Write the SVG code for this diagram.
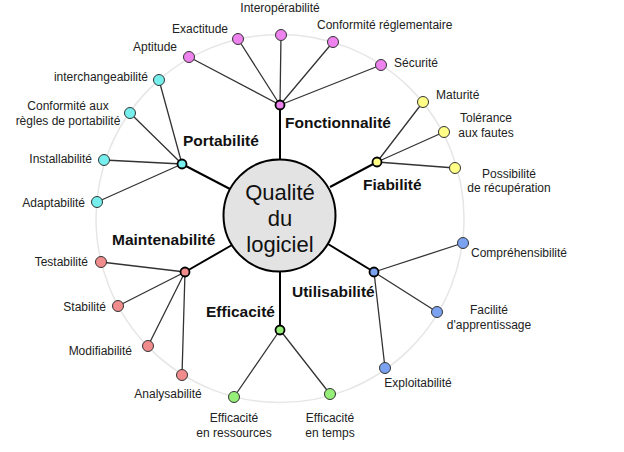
<svg xmlns="http://www.w3.org/2000/svg" width="624" height="452" viewBox="0 0 624 452">
<style>
.lbl{font-family:"Liberation Sans",Arial,sans-serif;font-size:12px;fill:#222}
.cat{font-family:"Liberation Sans",Arial,sans-serif;font-size:15.5px;font-weight:bold;fill:#111}
.main{font-family:"Liberation Sans",Arial,sans-serif;font-size:22px;fill:#111;text-anchor:middle}
.leaf{stroke:#333;stroke-width:1}
.hub{stroke:#000;stroke-width:1.8}
.thin{stroke:#333;stroke-width:1.3;fill:none}
.thick{stroke:#000;stroke-width:2;fill:none}
.fon{fill:#ee82ee}.por{fill:#77eeee}.fia{fill:#ffff88}.mai{fill:#f08c8c}.eff{fill:#95ee77}.uti{fill:#7ba2f0}
</style>
<rect width="624" height="452" fill="#fff"/>
<circle cx="280" cy="218.5" r="184" fill="none" stroke="#e6e6e6" stroke-width="1.5"/>
<g id="connectors">
<path class="thick" d="M280 105V159.5M182 164L230 189M377 162L330 187M185 272L232 245M374 272L328 244M280 330V271.5"/>
<path class="thin" d="M280 105L189 57M280 105L238 39M280 105L281 35M280 105L333 42M280 105L381 65"/>
<path class="thin" d="M182 164L159 80M182 164L130 113M182 164L104 160M182 164L97 202"/>
<path class="thin" d="M377 162L423 102M377 162L444 132M377 162L455 168"/>
<path class="thin" d="M185 272L101 262M185 272L118 306M185 272L148 346M185 272L182 375"/>
<path class="thin" d="M280 330L234 397M280 330L330 394"/>
<path class="thin" d="M374 272L463 243M374 272L437 312M374 272L385 368"/>
</g>
<g id="center">
<circle cx="279.5" cy="215.5" r="56" fill="#e3e3e3" stroke="#000" stroke-width="2"/>
<text class="main" x="280" y="200">Qualité</text>
<text class="main" x="280" y="226">du</text>
<text class="main" x="280" y="252">logiciel</text>
</g>
<g id="fonctionnalite">
<circle class="hub fon" cx="280" cy="105" r="4.5"/>
<text class="cat" x="285" y="128">Fonctionnalité</text>
<circle class="leaf fon" cx="189" cy="57" r="5.5"/><text class="lbl" x="177" y="51" text-anchor="end">Aptitude</text>
<circle class="leaf fon" cx="238" cy="39" r="5.5"/><text class="lbl" x="200" y="33" text-anchor="middle">Exactitude</text>
<circle class="leaf fon" cx="281" cy="35" r="5.5"/><text class="lbl" x="280" y="12" text-anchor="middle">Interopérabilité</text>
<circle class="leaf fon" cx="333" cy="42" r="5.5"/><text class="lbl" x="317" y="29">Conformité réglementaire</text>
<circle class="leaf fon" cx="381" cy="65" r="5.5"/><text class="lbl" x="394" y="67">Sécurité</text>
</g>
<g id="portabilite">
<circle class="hub por" cx="182" cy="164" r="4.5"/>
<text class="cat" x="183" y="146">Portabilité</text>
<circle class="leaf por" cx="159" cy="80" r="5.5"/><text class="lbl" x="148" y="81" text-anchor="end">interchangeabilité</text>
<circle class="leaf por" cx="130" cy="113" r="5.5"/><text class="lbl" x="68" y="110" text-anchor="middle">Conformité aux</text><text class="lbl" x="68" y="125" text-anchor="middle">règles de portabilité</text>
<circle class="leaf por" cx="104" cy="160" r="5.5"/><text class="lbl" x="92" y="163" text-anchor="end">Installabilité</text>
<circle class="leaf por" cx="97" cy="202" r="5.5"/><text class="lbl" x="85" y="207" text-anchor="end">Adaptabilité</text>
</g>
<g id="fiabilite">
<circle class="hub fia" cx="377" cy="162" r="4.5"/>
<text class="cat" x="363" y="190">Fiabilité</text>
<circle class="leaf fia" cx="423" cy="102" r="5.5"/><text class="lbl" x="436" y="99">Maturité</text>
<circle class="leaf fia" cx="444" cy="132" r="5.5"/><text class="lbl" x="486" y="122" text-anchor="middle">Tolérance</text><text class="lbl" x="486" y="137" text-anchor="middle">aux fautes</text>
<circle class="leaf fia" cx="455" cy="168" r="5.5"/><text class="lbl" x="509" y="178" text-anchor="middle">Possibilité</text><text class="lbl" x="509" y="192" text-anchor="middle">de récupération</text>
</g>
<g id="maintenabilite">
<circle class="hub mai" cx="185" cy="272" r="4.5"/>
<text class="cat" x="112" y="245">Maintenabilité</text>
<circle class="leaf mai" cx="101" cy="262" r="5.5"/><text class="lbl" x="88" y="266" text-anchor="end">Testabilité</text>
<circle class="leaf mai" cx="118" cy="306" r="5.5"/><text class="lbl" x="106" y="311" text-anchor="end">Stabilité</text>
<circle class="leaf mai" cx="148" cy="346" r="5.5"/><text class="lbl" x="132" y="355" text-anchor="end">Modifiabilité</text>
<circle class="leaf mai" cx="182" cy="375" r="5.5"/><text class="lbl" x="168" y="398" text-anchor="middle">Analysabilité</text>
</g>
<g id="efficacite">
<circle class="hub eff" cx="280" cy="330" r="4.5"/>
<text class="cat" x="206" y="317">Efficacité</text>
<circle class="leaf eff" cx="234" cy="397" r="5.5"/><text class="lbl" x="234" y="422" text-anchor="middle">Efficacité</text><text class="lbl" x="234" y="437" text-anchor="middle">en ressources</text>
<circle class="leaf eff" cx="330" cy="394" r="5.5"/><text class="lbl" x="330" y="422" text-anchor="middle">Efficacité</text><text class="lbl" x="330" y="437" text-anchor="middle">en temps</text>
</g>
<g id="utilisabilite">
<circle class="hub uti" cx="374" cy="272" r="4.5"/>
<text class="cat" x="292" y="297">Utilisabilité</text>
<circle class="leaf uti" cx="463" cy="243" r="5.5"/><text class="lbl" x="471" y="257">Compréhensibilité</text>
<circle class="leaf uti" cx="437" cy="312" r="5.5"/><text class="lbl" x="489" y="314" text-anchor="middle">Facilité</text><text class="lbl" x="489" y="329" text-anchor="middle">d'apprentissage</text>
<circle class="leaf uti" cx="385" cy="368" r="5.5"/><text class="lbl" x="418" y="387" text-anchor="middle">Exploitabilité</text>
</g>
</svg>
